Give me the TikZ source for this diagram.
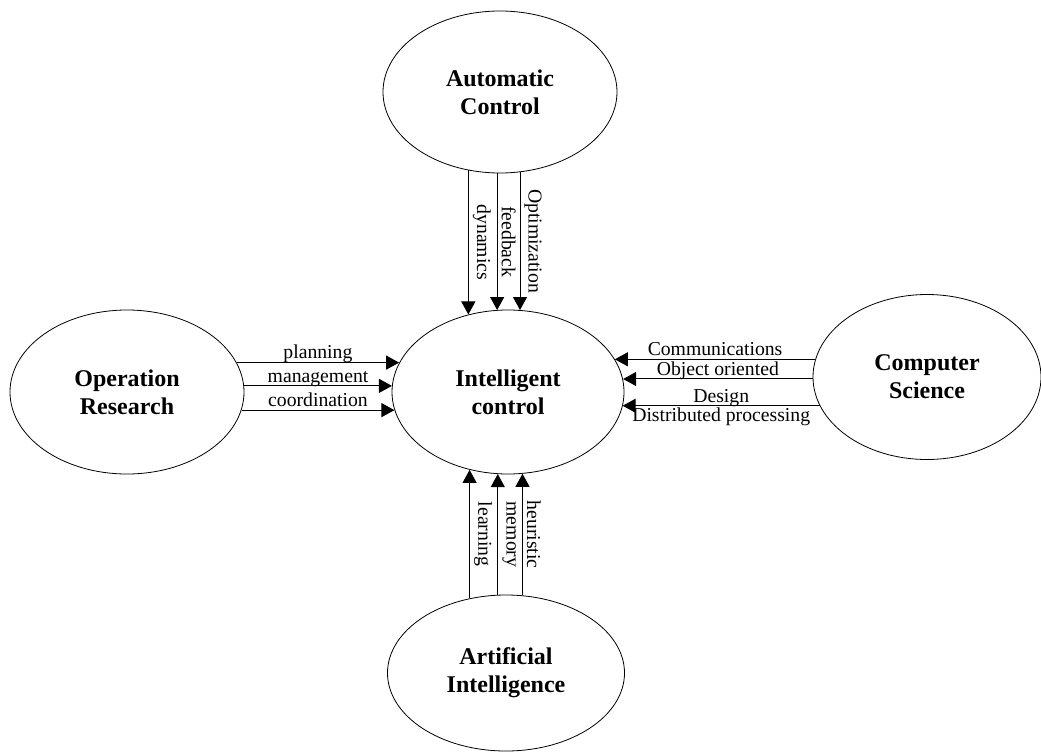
\documentclass[tikz,border=0pt]{standalone}
\usepackage{fontspec}
\setmainfont{Liberation Serif}
\usetikzlibrary{arrows.meta,shapes.geometric}
\tikzset{
  field/.style={ellipse,draw,line width=0.8pt,minimum width=234pt,minimum height=162pt,
    align=center,font=\fontsize{24}{28}\selectfont\bfseries},
  flow/.style={->,line width=1pt},
  lbl/.style={midway,inner sep=1pt,text height=0.68em,text depth=0.22em},
  vlbl/.style={midway,anchor=south,rotate=-90,inner sep=4pt}
}
\begin{document}
\begin{tikzpicture}[>={Triangle[length=13pt,width=14pt]},x=1pt,y=-1pt,
    line join=round,font=\fontsize{19.7}{22}\selectfont]
  \useasboundingbox (0,0) rectangle (1041,755);
  % fields
  \node[field] (ac) at (500,92) {Automatic\\Control};
  \node[field,minimum width=232pt,minimum height=164pt] (ic) at (508,392) {Intelligent\\control};
  \node[field,minimum height=164pt] (or) at (127,392) {Operation\\Research};
  \node[field,minimum width=228pt,minimum height=165pt] (cs) at (927,377) {Computer\\Science};
  \node[field,minimum width=237pt,minimum height=156pt] (ai) at (506,673) {Artificial\\Intelligence};
  % from automatic control
  \draw[flow] (ac.248) -- (ac.248 |- ic.117) node[vlbl]{dynamics};
  \draw[flow] (ac.268) -- (ac.268 |- ic.98) node[vlbl]{feedback};
  \draw[flow] (ac.284) -- (ac.284 |- ic.82) node[vlbl]{Optimization};
  % from operation research
  \draw[flow] (or.15) -- (ic.165 |- or.15) node[lbl,above]{planning};
  \draw[flow] (or.3) -- (ic.177 |- or.3) node[lbl,above]{management};
  \draw[flow] (or.-9) -- (ic.189 |- or.-9) node[lbl,above]{coordination};
  % from computer science
  \draw[flow] (cs.171) -- (ic.17 |- cs.171) node[lbl,above]{Communications};
  \draw[flow] (cs.181) -- (ic.6 |- cs.181) node[lbl,above]{Object oriented};
  \draw[flow] (cs.195) -- (ic.-7 |- cs.195) node[lbl,above]{Design}
    node[midway,below,inner sep=1.5pt]{Distributed processing};
  % from artificial intelligence
  \draw[flow] (ai.116) -- (ai.116 |- ic.244) node[vlbl]{learning};
  \draw[flow] (ai.96) -- (ai.96 |- ic.263) node[vlbl]{memory};
  \draw[flow] (ai.78) -- (ai.78 |- ic.280) node[vlbl]{heuristic};
\end{tikzpicture}
\end{document}
